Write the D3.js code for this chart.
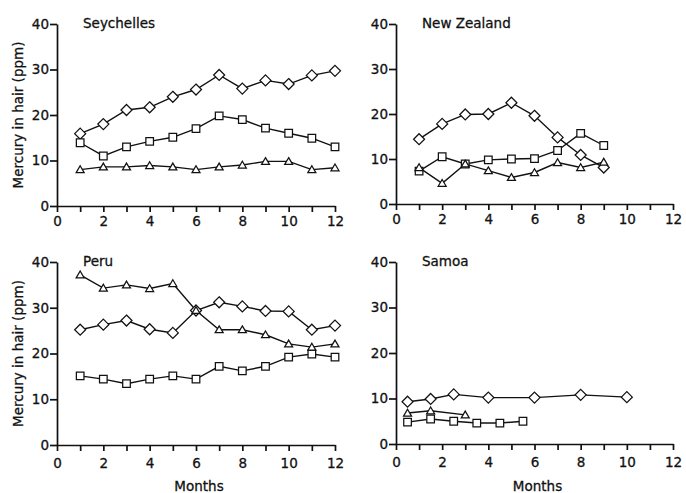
<!DOCTYPE html>
<meta charset="utf-8">
<head>
  <title>Mercury in hair by month</title>
</head>

<style>
body { margin: 0; background: #fff; }
text {
  font-family: "DejaVu Sans", sans-serif;
  font-size: 13.5px;
  fill: #111;
  stroke: #111;
  stroke-width: 0.3;
}
.axis path, .axis line {
  stroke: #111;
  stroke-width: 1.7;
}
.axis text {
  font-family: "DejaVu Sans", sans-serif;
  font-size: 13.5px;
  fill: #111;
  stroke: #111;
  stroke-width: 0.3;
}
.series {
  fill: none;
  stroke: #111;
  stroke-width: 1.4;
}
.marker {
  fill: #fff;
  stroke: #111;
  stroke-width: 1.25;
}
</style>

<body>
  <svg width="686" height="493"></svg>

  <script src="https://cdnjs.cloudflare.com/ajax/libs/d3/7.8.5/d3.min.js"></script>
  <script>
// values
var months = [1, 2, 3, 4, 5, 6, 7, 8, 9, 10, 11, 12];
var nzMonths = [1, 2, 3, 4, 5, 6, 7, 8, 9];

var seychellesDiamond = [15.9, 18.0, 21.1, 21.7, 24.0, 25.6, 28.8, 25.8, 27.6, 26.8, 28.7, 29.7];
var seychellesSquare = [13.9, 11.0, 13.0, 14.2, 15.1, 17.0, 19.8, 19.0, 17.1, 16.0, 14.9, 13.0];
var seychellesTriangle = [8.0, 8.6, 8.6, 8.9, 8.6, 8.0, 8.6, 9.0, 9.8, 9.8, 8.0, 8.4];

var nzDiamond = [14.4, 17.8, 19.9, 20.0, 22.5, 19.6, 14.8, 10.9, 8.1];
var nzSquare = [7.3, 10.5, 8.9, 9.8, 10.0, 10.1, 11.9, 15.7, 13.0];
var nzTriangle = [8.1, 4.6, 8.9, 7.4, 5.9, 7.0, 9.2, 8.1, 9.3];

var peruDiamond = [25.2, 26.3, 27.2, 25.3, 24.5, 29.4, 31.2, 30.3, 29.3, 29.2, 25.2, 26.1];
var peruSquare = [15.1, 14.4, 13.4, 14.4, 15.1, 14.4, 17.2, 16.2, 17.2, 19.2, 19.9, 19.2];
var peruTriangle = [37.2, 34.3, 35.0, 34.2, 35.3, 29.4, 25.2, 25.2, 24.1, 22.1, 21.4, 22.1];

var samoaDiamondMonths = [0.5, 1.5, 2.5, 4, 6, 8, 10];
var samoaDiamond = [9.3, 9.9, 10.9, 10.2, 10.2, 10.8, 10.3];
var samoaSquareMonths = [0.5, 1.5, 2.5, 3.5, 4.5, 5.5];
var samoaSquare = [4.8, 5.5, 5.0, 4.6, 4.6, 5.0];
var samoaTriangleMonths = [0.5, 1.5, 3];
var samoaTriangle = [6.8, 7.3, 6.4];

var yTicks = [0, 10, 20, 30, 40];
var xTicks = d3.range(0, 13);

// panel frames in pixels
var panels = [
  { name: 'Seychelles', left: 57, right: 335, bottom: 206, top: 24, pad: 4, yLabel: true, xLabel: false,
    series: [
      { shape: 'diamond', x: months, y: seychellesDiamond },
      { shape: 'square', x: months, y: seychellesSquare },
      { shape: 'triangle', x: months, y: seychellesTriangle }
    ] },
  { name: 'New Zealand', left: 396, right: 673, bottom: 204, top: 24, pad: 4, yLabel: false, xLabel: false,
    series: [
      { shape: 'diamond', x: nzMonths, y: nzDiamond },
      { shape: 'square', x: nzMonths, y: nzSquare },
      { shape: 'triangle', x: nzMonths, y: nzTriangle }
    ] },
  { name: 'Peru', left: 57, right: 335, bottom: 445, top: 262, pad: 7, yLabel: true, xLabel: true,
    series: [
      { shape: 'diamond', x: months, y: peruDiamond },
      { shape: 'square', x: months, y: peruSquare },
      { shape: 'triangle', x: months, y: peruTriangle }
    ] },
  { name: 'Samoa', left: 396, right: 673, bottom: 444, top: 262, pad: 7, yLabel: false, xLabel: true,
    series: [
      { shape: 'diamond', x: samoaDiamondMonths, y: samoaDiamond },
      { shape: 'square', x: samoaSquareMonths, y: samoaSquare },
      { shape: 'triangle', x: samoaTriangleMonths, y: samoaTriangle }
    ] }
];

var symbols = {
  diamond: 'M0,-5.5L5.5,0L0,5.5L-5.5,0Z',
  square: 'M-3.8,-3.8H3.8V3.8H-3.8Z',
  triangle: 'M0,-3.8L4,3L-4,3Z'
};

var svg = d3.select('svg');

panels.forEach(function(p) {
  var x = d3.scaleLinear().domain([0, 12]).range([p.left, p.right]);
  var y = d3.scaleLinear().domain([0, 40]).range([p.bottom, p.top]);

  var g = svg.append('g');

  g.append('g')
    .attr('class', 'axis')
    .attr('transform', 'translate(0,' + p.bottom + ')')
    .call(d3.axisBottom(x)
      .tickValues(xTicks)
      .tickSize(6)
      .tickSizeOuter(0)
      .tickPadding(p.pad)
      .tickFormat(function(d) { return d % 2 ? '' : d; }));

  g.append('g')
    .attr('class', 'axis')
    .attr('transform', 'translate(' + p.left + ',0)')
    .call(d3.axisLeft(y)
      .tickValues(yTicks)
      .tickSize(7)
      .tickSizeOuter(0)
      .tickPadding(1));

  g.selectAll('.axis .domain').attr('fill', 'none');

  g.append('text')
    .attr('x', p.left + 26)
    .attr('y', p.top + 4)
    .text(p.name);

  if (p.yLabel) {
    g.append('text')
      .attr('transform', 'translate(23,' + (p.top + p.bottom) / 2 + ') rotate(-90)')
      .attr('text-anchor', 'middle')
      .text('Mercury in hair (ppm)');
  }

  if (p.xLabel) {
    g.append('text')
      .attr('x', (p.left + p.right) / 2 + 3)
      .attr('y', 491)
      .attr('text-anchor', 'middle')
      .text('Months');
  }

  var line = d3.line()
    .x(function(d) { return x(d[0]); })
    .y(function(d) { return y(d[1]); });

  p.series.forEach(function(s) {
    g.append('path')
      .attr('class', 'series')
      .attr('d', line(d3.zip(s.x, s.y)));
  });

  p.series.forEach(function(s) {
    g.selectAll(null)
      .data(d3.zip(s.x, s.y))
      .enter()
      .append('path')
      .attr('class', 'marker')
      .attr('transform', function(d) { return 'translate(' + [x(d[0]), y(d[1])] + ')'; })
      .attr('d', symbols[s.shape]);
  });
});
  </script>
</body>
</html>
